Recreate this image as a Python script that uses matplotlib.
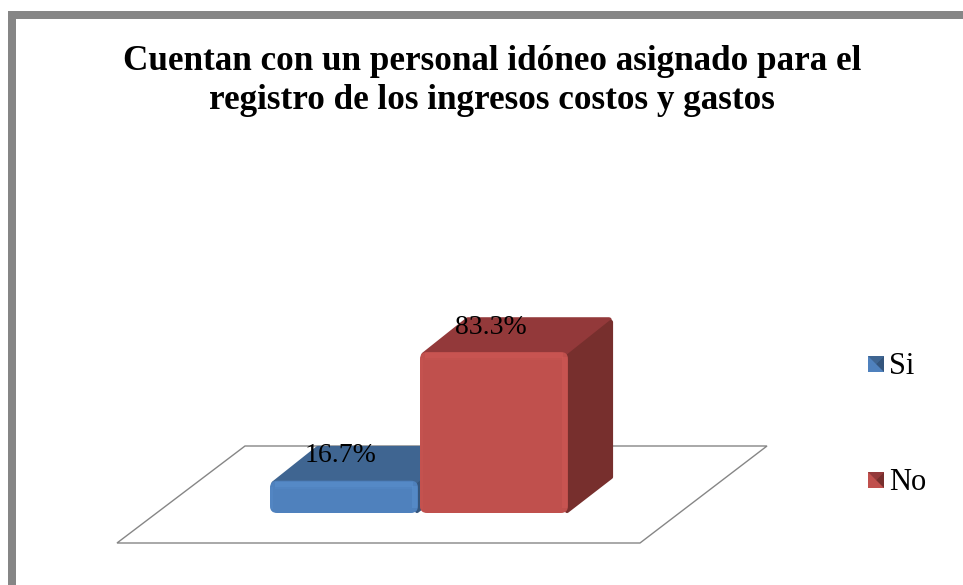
import matplotlib
matplotlib.use('Agg')
import matplotlib.pyplot as plt
from matplotlib.patches import FancyBboxPatch, Polygon, Rectangle

plt.rcParams['font.family'] = ['Liberation Serif', 'DejaVu Serif']

title = 'Cuentan con un personal idóneo asignado para el\nregistro de los ingresos costos y gastos'
categories = ['Si', 'No']
values = [16.7, 83.3]

# front, top, side, highlight
BLUE = ['#4F81BD', '#3F6591', '#34557C', '#5E94D2']
RED = ['#C0504D', '#93393A', '#772F2D', '#D25B57']
colors = [BLUE, RED]

# the chart is a simple oblique projection, in pixels of the picture
BASE_Y = 513
PX_PER_UNIT = 161 / 83.3
BAR_X0 = 270
BAR_W = 148
BAR_STEP = 150
DEPTH_X = 45
DEPTH_Y = 35


def draw_bar(ax, i, value, c):
    x0 = BAR_X0 + i * BAR_STEP
    x1 = x0 + BAR_W
    y_top = BASE_Y - value * PX_PER_UNIT
    r = 7
    h = value * PX_PER_UNIT

    # top and side faces, rounded by a stroke of the same colour
    top = [(x0 + 4, y_top + 3), (x1 - 3, y_top + 3),
           (x1 + DEPTH_X - 4, y_top - DEPTH_Y + 3), (x0 + DEPTH_X + 3, y_top - DEPTH_Y + 3)]
    ax.add_patch(Polygon(top, closed=True, fc=c[1], ec=c[1], lw=4, joinstyle='round', zorder=3 + i))
    side = [(x1 - 1, y_top + 5), (x1 + DEPTH_X - 2, y_top - DEPTH_Y + 5),
            (x1 + DEPTH_X - 2, BASE_Y - DEPTH_Y - 1), (x1 - 1, BASE_Y - 2)]
    ax.add_patch(Polygon(side, closed=True, fc=c[2], ec=c[2], lw=3, joinstyle='round', zorder=3 + i))

    # front face with its bevel strips
    ax.add_patch(FancyBboxPatch((x0 + r, y_top + r), BAR_W - 2 * r, h - 2 * r,
                                boxstyle=f'round,pad={r},rounding_size={r}',
                                fc=c[0], ec='none', zorder=3.2 + i))
    ax.add_patch(Rectangle((x0 + 5, y_top + 1), BAR_W - 10, 5, fc=c[3], ec='none', alpha=0.45, zorder=3.3 + i))
    ax.add_patch(Rectangle((x0 + 5, y_top + 6), BAR_W - 10, 2, fc=c[3], ec='none', alpha=0.2, zorder=3.3 + i))
    ax.add_patch(Rectangle((x1 - 6, y_top + 5), 5, h - 10, fc=c[3], ec='none', alpha=0.45, zorder=3.3 + i))
    ax.add_patch(Rectangle((x0, y_top + 6), 3, h - 10, fc=c[3], ec='none', alpha=0.25, zorder=3.3 + i))

    # value label sits on the top face
    ax.text(x0 + BAR_W / 2 - 3, y_top - DEPTH_Y + 10, f'{value:.1f}%', fontsize=20,
            color='black', ha='center', va='center', zorder=10)


def draw_legend_key(ax, x, y, c):
    s = 16
    ax.add_patch(Rectangle((x, y), s, s, fc=c[0], ec='none', zorder=3))
    m = (x + s / 2, y + s / 2)
    ax.add_patch(Polygon([(x, y), (x + s, y), m], fc=c[1], ec='none', zorder=4))
    ax.add_patch(Polygon([(x + s, y), (x + s, y + s), m], fc=c[2], ec='none', zorder=4))


fig = plt.figure(figsize=(9.63, 5.85), dpi=100)
ax = fig.add_axes([0, 0, 1, 1])
ax.set_xlim(0, 963)
ax.set_ylim(585, 0)
ax.axis('off')

# grey frame, open to the right and bottom of the picture
ax.add_patch(Rectangle((8, 11), 1000, 1000, fc='#868686', ec='none', zorder=0))
ax.add_patch(Rectangle((16, 19), 1000, 1000, fc='white', ec='none', zorder=1))

# floor of the 3D plot
ax.add_patch(Polygon([(117, 543), (640, 543), (767, 446), (245, 446)], closed=True,
                     fc='white', ec='#868686', lw=1.0, zorder=2))

for i, v in enumerate(values):
    draw_bar(ax, i, v, colors[i])

ax.text(492, 81, title, fontsize=25.3, fontweight='bold', ha='center', va='center',
        linespacing=1.24, color='black', zorder=10)

for i, name in enumerate(categories):
    y = 367 + i * 116
    draw_legend_key(ax, 868, y - 11, colors[i])
    ax.text(889, y, name, fontsize=22, ha='left', va='center', color='black', zorder=10)

fig.savefig('out.png', dpi=100)
